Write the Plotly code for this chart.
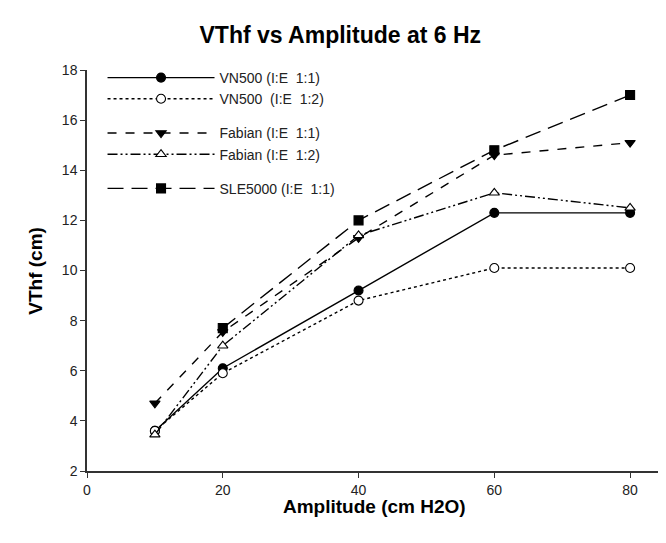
import plotly.graph_objects as go

amplitude = [10, 20, 40, 60, 80]
vn500_11 = [3.6, 6.1, 9.2, 12.3, 12.3]
vn500_12 = [3.6, 5.9, 8.8, 10.1, 10.1]
fabian_11 = [4.7, 7.55, 11.3, 14.6, 15.1]
fabian_12 = [3.45, 7.0, 11.4, 13.1, 12.5]
sle5000_11 = [None, 7.7, 12.0, 14.8, 17.0]

names = ["VN500 (I:E  1:1)", "VN500  (I:E  1:2)", "Fabian (I:E  1:1)",
         "Fabian (I:E  1:2)", "SLE5000 (I:E  1:1)"]
series = [vn500_11, vn500_12, fabian_11, fabian_12, sle5000_11]
dashes = ["solid", "dot", "dash", "10px,3px,2px,3px,2px,3px", "16px,8px"]
symbols = ["circle", "circle", "triangle-down", "triangle-up", "square"]
fills = ["black", "white", "black", "white", "black"]
groups = ["a", "a", "b", "b", "c"]

FONT = "Liberation Sans, Arial"

fig = go.Figure()
for n, s, d, sym, f, g in zip(names, series, dashes, symbols, fills, groups):
    fig.add_trace(go.Scatter(
        x=amplitude, y=s, name=n, mode="lines+markers", legendgroup=g,
        line=dict(color="black", width=1.4, dash=d),
        marker=dict(symbol=sym, size=9, color=f, line=dict(color="black", width=1.1)),
    ))

axis_common = dict(showgrid=False, zeroline=False, showline=True, linecolor="#333",
                   linewidth=1.5, ticks="outside", ticklen=5, tickcolor="#333",
                   tickwidth=1.2, automargin=False,
                   tickfont=dict(family=FONT, size=14, color="#222"))

fig.update_layout(
    width=658, height=535,
    margin=dict(l=79, r=4, t=62, b=72),
    paper_bgcolor="white", plot_bgcolor="white",
    title=dict(text="<b>VThf vs Amplitude at 6 Hz</b>", x=0.505, xanchor="center", y=0.9495,
               yanchor="middle", font=dict(family=FONT, size=23, color="black")),
    xaxis=dict(range=[0, 84.7], tickvals=[0, 20, 40, 60, 80], **axis_common),
    yaxis=dict(range=[2, 18], dtick=2, **axis_common),
    legend=dict(x=0.027, y=1.02, xanchor="left", yanchor="top", bgcolor="rgba(0,0,0,0)",
                traceorder="grouped", tracegroupgap=13, itemwidth=107,
                font=dict(family=FONT, size=14, color="#222")),
    annotations=[
        dict(text="<b>Amplitude (cm H2O)</b>", xref="paper", yref="paper", x=0.5, y=-0.088,
             xanchor="center", yanchor="middle", showarrow=False,
             font=dict(family=FONT, size=19, color="black")),
        dict(text="<b>VThf (cm)</b>", xref="paper", yref="paper", x=-0.09, y=0.5,
             xanchor="center", yanchor="middle", textangle=-90, showarrow=False,
             font=dict(family=FONT, size=19, color="black")),
    ],
)

fig.write_html("out.html")
